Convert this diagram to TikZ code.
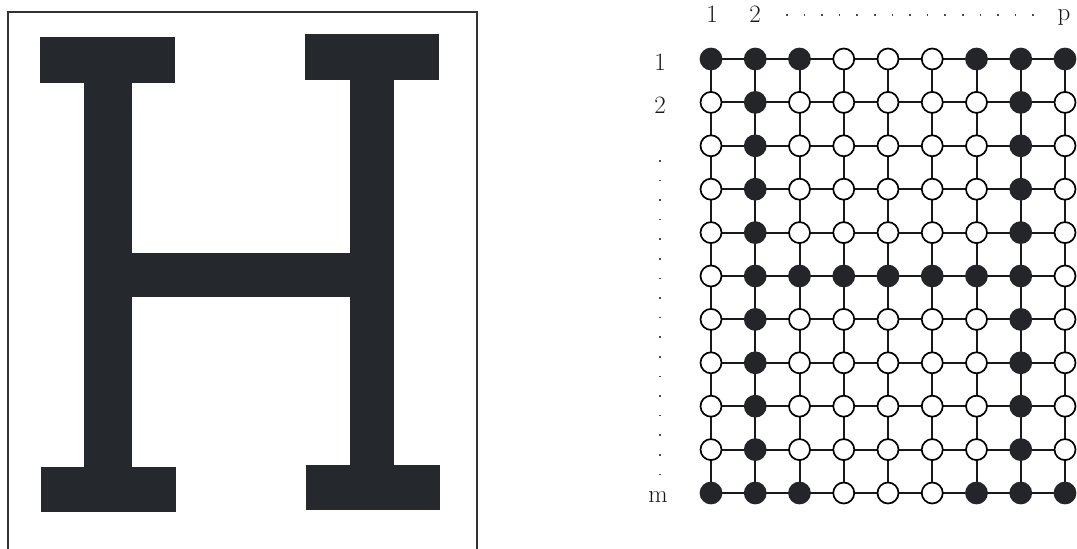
\documentclass[tikz,border=0pt]{standalone}
\begin{document}
\begin{tikzpicture}[x=1pt,y=-1pt,
  hink/.style={fill=inkc,draw=none},
  vtx/.style={circle,draw=black,line width=1.7pt,minimum size=21pt,inner sep=0pt,fill=white},
  vfull/.style={vtx,fill=dotc,draw=dotc},
  edge/.style={line width=2pt,draw=black!90},
  lab/.style={font=\fontsize{25}{30}\selectfont,inner sep=0pt,text=black!90},
  dotline/.style={line width=1.6pt,dash pattern=on 1.6pt off 16pt,draw=black!70}]
\definecolor{inkc}{HTML}{25282C}
\definecolor{dotc}{HTML}{232528}
\useasboundingbox (0,0) rectangle (1077,549);
\fill[white] (0,0) rectangle (1077,549);
% frame
\draw[line width=1.5pt,black!80] (8,549) -- (8,12) -- (477,12) -- (477,549);
% letter H
\fill[hink] (40,37) rectangle (175,83);
\fill[hink] (84,83) rectangle (132,467);
\fill[hink] (41,467) rectangle (176,512);
\fill[hink] (305,34) rectangle (439,80);
\fill[hink] (350,80) rectangle (394,465);
\fill[hink] (306,465) rectangle (440,510);
\fill[hink] (132,253) rectangle (350,297);
% grid
\foreach \r in {1,...,11}{
  \foreach \c in {1,...,9}{
    \pgfmathsetmacro{\xx}{711+(\c-1)*44.25}
    \pgfmathsetmacro{\yy}{59+(\r-1)*43.4}
    \coordinate (p-\r-\c) at (\xx,\yy);
  }
}
\foreach \r in {1,...,11}{
  \foreach \c [evaluate=\c as \cn using int(\c+1)] in {1,...,8}{
    \draw[edge] (p-\r-\c) -- (p-\r-\cn);
  }
}
\foreach \c in {1,...,9}{
  \foreach \r [evaluate=\r as \rn using int(\r+1)] in {1,...,10}{
    \draw[edge] (p-\r-\c) -- (p-\rn-\c);
  }
}
\foreach \r in {1,...,11}{
  \foreach \c in {1,...,9}{
    \pgfmathtruncatemacro{\isfull}{
      ((\r==1 || \r==11) && (\c<=3 || \c>=7)) || (\c==2 || \c==8) || (\r==6 && \c>=2 && \c<=8) ? 1 : 0}
    \ifnum\isfull=1
      \node[vfull] (n-\r-\c) at (p-\r-\c) {};
    \else
      \node[vtx] (n-\r-\c) at (p-\r-\c) {};
    \fi
  }
}
% labels
\node[lab] (t1) at (712,14) {1};
\node[lab] (t2) at (755,14) {2};
\node[lab] (tp) at (1064,17) {p};
\node[lab] (l1) at (660,62) {1};
\node[lab] (l2) at (660,105) {2};
\node[lab] (lm) at (658,497) {m};
\coordinate (hs) at (786,15);
\coordinate (he) at (1048,15);
\draw[dotline] (hs) -- (he);
\coordinate (vs) at (660,160);
\coordinate (ve) at (660,480);
\draw[dotline,dash pattern=on 1.6pt off 18pt] (vs) -- (ve);
\end{tikzpicture}
\end{document}
